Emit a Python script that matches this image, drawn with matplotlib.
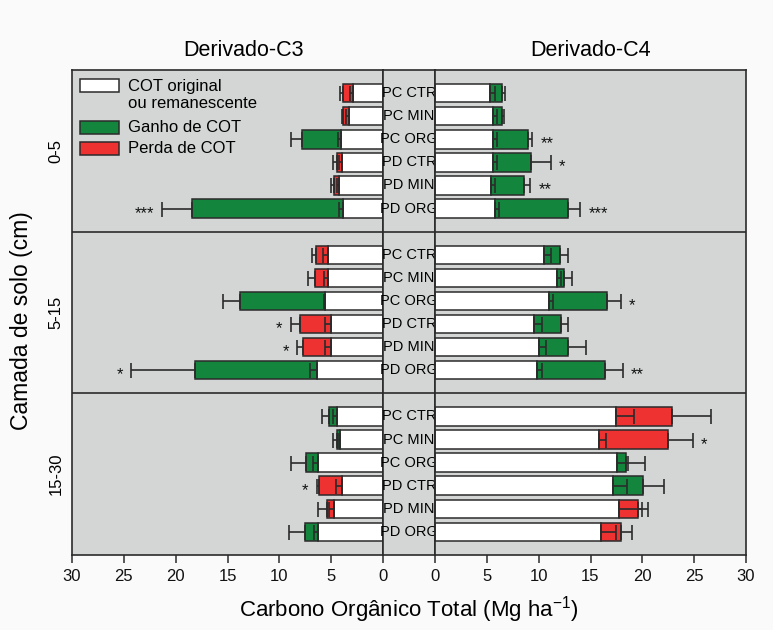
import matplotlib
matplotlib.use("Agg")
import matplotlib.pyplot as plt
from matplotlib.patches import Rectangle
import numpy as np

plt.rcParams["font.family"] = ["Liberation Sans", "DejaVu Sans"]
plt.rcParams["mathtext.fontset"] = "custom"
plt.rcParams["mathtext.rm"] = "Liberation Sans"
plt.rcParams["mathtext.default"] = "rm"

groups = ["0-5", "5-15", "15-30"]
treatments = ["PC CTR", "PC MIN", "PC ORG", "PD CTR", "PD MIN", "PD ORG"]

# Derivado-C3 (left panel), 0-5 / 5-15 / 15-30 cm, 6 treatments each
c3_base = [2.85, 3.3, 4.05, 4.0, 4.2, 3.9,
           5.27, 5.27, 5.6, 5.05, 5.05, 6.4,
           4.4, 4.1, 6.25, 4.0, 4.75, 6.3]
c3_base_err = [0.35, 0.28, 0.25, 0.2, 0.25, 0.35,
               0.5, 0.4, 0.05, 0.55, 0.5, 0.65,
               0.4, 0.2, 0.5, 0.5, 0.5, 0.4]
c3_total = [3.9, 3.85, 7.8, 4.45, 4.7, 18.45,
            6.45, 6.6, 13.8, 8.05, 7.7, 18.1,
            5.25, 4.4, 7.45, 6.15, 5.45, 7.5]
c3_total_err = [0.25, 0.1, 1.1, 0.4, 0.3, 2.85,
                0.4, 0.6, 1.65, 0.85, 0.55, 6.2,
                0.65, 0.45, 1.45, 0.25, 0.8, 1.6]
c3_kind = ["P", "P", "G", "P", "P", "G",
           "P", "P", "G", "P", "P", "G",
           "G", "G", "G", "P", "P", "G"]
c3_stars = ["", "", "", "", "", "***",
            "", "", "", "*", "*", "*",
            "", "", "", "*", "", ""]

# Derivado-C4 (right panel)
c4_base = [5.3, 5.6, 5.55, 5.6, 5.4, 5.8,
           10.5, 11.75, 11.0, 9.55, 10.05, 9.8,
           17.5, 15.8, 17.6, 17.2, 17.75, 16.05]
c4_base_err = [0.5, 0.4, 0.4, 0.4, 0.4, 0.4,
               0.7, 0.45, 0.35, 0.75, 0.7, 0.5,
               1.7, 0.7, 1.05, 1.35, 2.2, 1.45]
c4_total = [6.45, 6.5, 8.95, 9.25, 8.6, 12.8,
            12.1, 12.45, 16.6, 12.2, 12.85, 16.4,
            22.9, 22.5, 18.4, 20.1, 19.55, 17.9]
c4_total_err = [0.3, 0.2, 0.45, 1.9, 0.6, 1.2,
                0.7, 0.8, 1.3, 0.6, 1.7, 1.7,
                3.75, 2.35, 1.9, 2.0, 1.0, 1.1]
c4_kind = ["G", "G", "G", "G", "G", "G",
           "G", "G", "G", "G", "G", "G",
           "P", "P", "G", "G", "P", "P"]
c4_stars = ["", "", "**", "*", "**", "***",
            "", "", "*", "", "", "**",
            "", "*", "", "", "", ""]

GREEN = "#13853c"
RED = "#ee3131"
PANEL = "#d4d6d6"
EDGE = "#2b2b2b"

ypos = np.array([7 * g + k + 1 for g in range(len(groups)) for k in range(len(treatments))])

fig = plt.figure(figsize=(7.73, 6.30), dpi=100, facecolor="#fafafa")
W, H = 773, 630
bottom, top = 1 - 555 / H, 1 - 70 / H
ax_l = fig.add_axes([72 / W, bottom, 311 / W, top - bottom])
ax_m = fig.add_axes([383 / W, bottom, 52 / W, top - bottom])
ax_r = fig.add_axes([435 / W, bottom, 311 / W, top - bottom])


def draw_panel(ax, base, base_err, total, total_err, kind, stars):
    base = np.array(base)
    total = np.array(total)
    zeros = np.zeros(len(base))
    colors = [GREEN if k == "G" else RED for k in kind]
    ax.barh(ypos, base, height=0.8, color="white", edgecolor=EDGE, linewidth=1.1, zorder=2)
    ax.barh(ypos, total - base, left=base, height=0.8, color=colors,
            edgecolor=EDGE, linewidth=1.1, zorder=2)
    ax.errorbar(base, ypos, xerr=[zeros, base_err], fmt="none", ecolor=EDGE,
                elinewidth=1.2, capsize=5.4, capthick=1.2, zorder=3)
    ax.errorbar(total, ypos, xerr=[zeros, total_err], fmt="none", ecolor=EDGE,
                elinewidth=1.2, capsize=5.4, capthick=1.2, zorder=3)
    for y, t, e, s in zip(ypos, total, total_err, stars):
        if s:
            ax.text(t + e + 0.8, y + 0.2, s, ha="left" if ax is ax_r else "right",
                    va="center", fontsize=12, color="#111111")


for ax in (ax_l, ax_m, ax_r):
    ax.set_facecolor(PANEL)
    ax.set_ylim(21, 0)
    ax.set_yticks([])
    for sp in ax.spines.values():
        sp.set_color(EDGE)
        sp.set_linewidth(1.2)
    for yl in (7, 14):
        ax.axhline(yl, color=EDGE, linewidth=1.2, zorder=4)

draw_panel(ax_l, c3_base, c3_base_err, c3_total, c3_total_err, c3_kind, c3_stars)
draw_panel(ax_r, c4_base, c4_base_err, c4_total, c4_total_err, c4_kind, c4_stars)

ax_l.set_xlim(30, 0)
ax_r.set_xlim(0, 30)
for ax in (ax_l, ax_r):
    ax.set_xticks(np.arange(0, 31, 5))
    ax.tick_params(axis="x", direction="out", length=6, width=1.1, pad=4,
                   labelsize=12, colors=EDGE, labelcolor="#111111")

ax_m.set_xlim(0, 1)
ax_m.set_xticks([])
for y, lab in zip(ypos, treatments * len(groups)):
    ax_m.text(0.5, y, lab, ha="center", va="center", fontsize=10.5, zorder=5, clip_on=False)

# legend drawn by hand in the upper left of the left panel
legend_items = [("white", 0.968), (GREEN, 0.882), (RED, 0.838)]
for col, yc in legend_items:
    ax_l.add_patch(Rectangle((0.026, yc - 0.0135), 0.125, 0.027, transform=ax_l.transAxes,
                             facecolor=col, edgecolor=EDGE, linewidth=1.1, zorder=5))
ax_l.text(0.18, 0.968 + 0.014, "COT original\nou remanescente", transform=ax_l.transAxes,
          ha="left", va="top", fontsize=12, linespacing=1.15, zorder=5)
ax_l.text(0.18, 0.882, "Ganho de COT", transform=ax_l.transAxes, ha="left", va="center", fontsize=12)
ax_l.text(0.18, 0.838, "Perda de COT", transform=ax_l.transAxes, ha="left", va="center", fontsize=12)

fig.text(243 / W, 1 - 50 / H, "Derivado-C3", ha="center", va="center", fontsize=15.5)
fig.text(591 / W, 1 - 50 / H, "Derivado-C4", ha="center", va="center", fontsize=15.5)
fig.text(409 / W, 1 - 610 / H, "Carbono Orgânico Total (Mg ha$^{-1}$)", ha="center",
         va="center", fontsize=16)
fig.text(22 / W, 1 - 321 / H, "Camada de solo (cm)", rotation=90, ha="center",
         va="center", fontsize=16.5)
for g, lab in enumerate(groups):
    yc = 70 + (g + 0.5) * 485 / 3
    fig.text(56 / W, 1 - yc / H, lab, rotation=90, ha="center", va="center", fontsize=12)

fig.savefig("out.png", dpi=100, facecolor=fig.get_facecolor())
